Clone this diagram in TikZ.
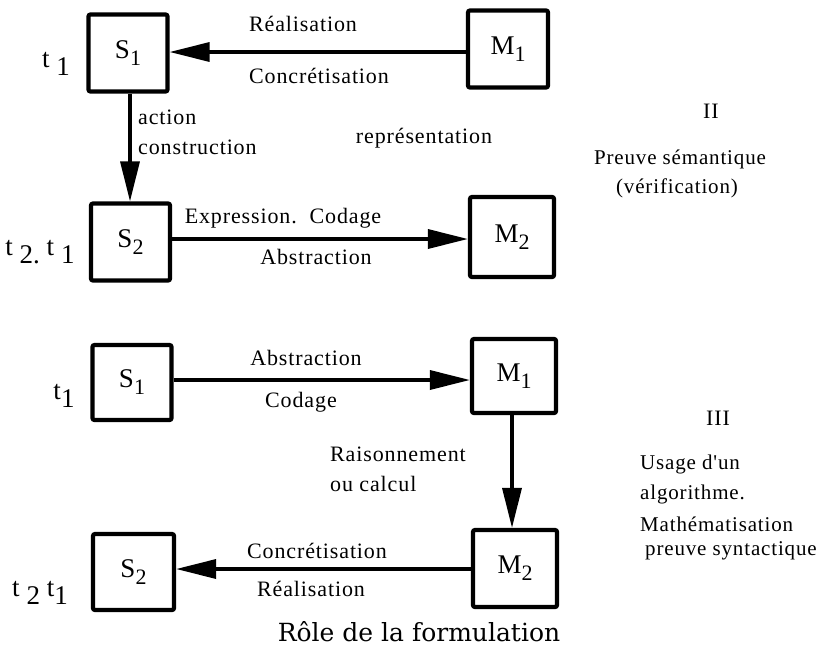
\documentclass[tikz,border=0pt]{standalone}
\usepackage{fontspec}
\setmainfont{Liberation Serif}
\newfontfamily\titlefont{DejaVu Serif}
\newfontfamily\spacedfont[LetterSpace=4]{Liberation Serif}
\usetikzlibrary{arrows.meta}

% letter followed by a deeply lowered index
\newcommand{\lowidx}[3][6pt]{#2\raisebox{-#1}{#3}}
\newcommand{\boxlabel}[2]{\lowidx[7pt]{#1}{\fontsize{22}{22}\selectfont #2}}

\begin{document}
\begin{tikzpicture}[x=1pt,y=-1pt,
  box/.style={draw, line width=4.2pt, rounded corners=2pt, inner sep=0pt,
    minimum width=79pt, minimum height=77pt,
    font=\fontsize{27}{30}\selectfont},
  link/.style={line width=3.4pt, -{Triangle[length=40pt,width=19pt]}},
  lbl/.style={font=\spacedfont\fontsize{22}{26}\selectfont, inner sep=0pt},
  side/.style={font=\spacedfont\fontsize{21}{25}\selectfont, inner sep=0pt, anchor=west},
  tlbl/.style={font=\fontsize{27}{30}\selectfont, inner sep=0pt}]
\useasboundingbox (0,0) rectangle (827,646);

% ---- part II ----
\node[box] (s1a) at (128,53) {\boxlabel{S}{1}};
\node[box, minimum width=80pt] (m1a) at (508,49) {\boxlabel{M}{1}};
\node[box] (s2a) at (130.5,242) {\boxlabel{S}{2}};
\node[box, minimum width=84pt, minimum height=80pt] (m2a) at (512,237) {\boxlabel{M}{2}};

\draw[link] (m1a.west |- 0,52) -- (s1a.east |- 0,52);
\draw[link] (s1a.south -| 130,0) -- (s2a.north -| 130,0);
\draw[link] (s2a.east |- 0,239) -- (m2a.west |- 0,239);

\node[lbl] at (303,24) {Réalisation};
\node[lbl] at (319,76) {Concrétisation};
\node[lbl, anchor=west] at (138,117) {action};
\node[lbl, anchor=west] at (138,147) {construction};
\node[lbl] at (424,138) {représentation};
\node[lbl] at (283,218) {Expression.\ \ Codage};
\node[lbl] at (316,257) {Abstraction};

\node[tlbl] at (56,64) {\lowidx[8pt]{t}{\ 1}};
\node[tlbl] at (40,252) {\lowidx[8pt]{t}{\ 2.} \lowidx[8pt]{t}{\ 1}};

\node[lbl] at (711,111) {II};
\node[side, anchor=center] at (680,159) {Preuve sémantique};
\node[side, anchor=center] at (677,188) {(vérification)};

% ---- part III ----
\node[box, minimum height=75pt] (s1b) at (132,382.5) {\boxlabel{S}{1}};
\node[box, minimum width=84pt, minimum height=74pt] (m1b) at (514,376) {\boxlabel{M}{1}};
\node[box, minimum width=84pt] (m2b) at (515,568.5) {\boxlabel{M}{2}};
\node[box, minimum width=81pt, minimum height=76pt] (s2b) at (133.5,572) {\boxlabel{S}{2}};

\draw[link] (s1b.east |- 0,380) -- (m1b.west |- 0,380);
\draw[link] (m1b.south -| 512,0) -- (m2b.north -| 512,0);
\draw[link] (m2b.west |- 0,569) -- (s2b.east |- 0,569);

\node[lbl] at (306,358) {Abstraction};
\node[lbl] at (301,402) {Codage};
\node[lbl, anchor=west] at (330,454) {Raisonnement};
\node[lbl, anchor=west] at (330,484) {ou calcul};
\node[lbl] at (317,551) {Concrétisation};
\node[lbl] at (311,589) {Réalisation};

\node[tlbl] at (64,396) {\lowidx[8pt]{t}{1}};
\node[tlbl] at (40,593) {\lowidx[8pt]{t}{\ 2} \lowidx[8pt]{t}{1}};

\node[lbl] at (718,418) {III};
\node[side] at (640,464) {Usage d'un};
\node[side] at (640,494) {algorithme.};
\node[side] at (640,524) {Mathématisation};
\node[side] at (645,551) {preuve syntactique};

\node[font=\titlefont\fontsize{25}{28}\selectfont, inner sep=0pt, text depth=0pt,
  anchor=base] (title) at (419,641) {Rôle de la formulation};
\end{tikzpicture}
\end{document}
